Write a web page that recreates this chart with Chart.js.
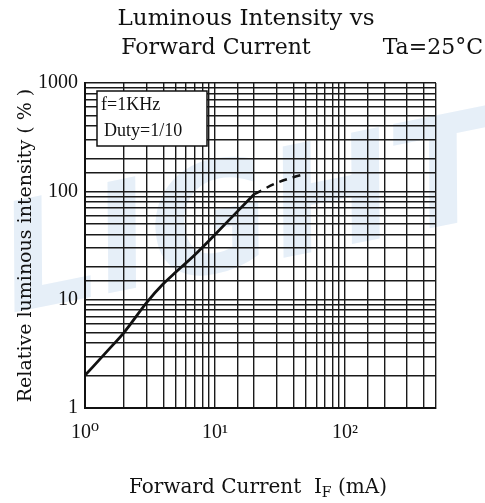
<!DOCTYPE html>
<html>
<head>
<meta charset="utf-8">
<script src="https://cdn.jsdelivr.net/npm/chart.js@4.4.1/dist/chart.umd.min.js"></script>
<style>
  html, body { margin: 0; padding: 0; background: #ffffff; }
  #wrap { width: 485px; height: 503px; }
</style>
</head>
<body>
<div id="wrap"><canvas id="c" width="485" height="503"></canvas></div>
<script>
// ---- data ----
const currentSolid   = [1, 1.5, 2, 3, 4, 5, 7, 10, 15, 20];          // mA
const intensitySolid = [2, 3.4, 5.0, 9.5, 14, 18, 26, 40, 66, 94];   // %
const currentDashed   = [20, 30, 40, 50];                             // mA
const intensityDashed = [94, 120, 135, 145];                          // %
const xTickLabels = { 1: '10\u2070', 10: '10\u00B9', 100: '10\u00B2' };
const yTickLabels = [1, 10, 100, 1000];
const titleLines = ['Luminous Intensity vs', 'Forward Current'];
const conditionText = 'Ta=25\u00B0C';
const noteLines = ['f=1KHz', 'Duty=1/10'];

const serif = '"DejaVu Serif", "Liberation Serif", serif';
const tickFont = '"Liberation Serif", "DejaVu Serif", serif';

const decorPlugin = {
  id: 'decor',
  beforeDraw(chart) {
    const ctx = chart.ctx;
    ctx.save();
    ctx.fillStyle = '#e6eff8';
    ctx.translate(250, 225);
    ctx.rotate(-0.2);
    ctx.font = 'italic bold 150px "DejaVu Sans", sans-serif';
    ctx.textAlign = 'center';
    ctx.textBaseline = 'middle';
    ctx.fillText('LIGHT', 0, 0);
    ctx.restore();
  },
  afterDraw(chart) {
    const ctx = chart.ctx;
    const a = chart.chartArea;
    ctx.save();
    ctx.fillStyle = '#111';
    ctx.textBaseline = 'middle';
    // titles
    ctx.font = '23px ' + serif;
    ctx.textAlign = 'center';
    ctx.fillText(titleLines[0], 246, 19);
    ctx.font = '22px ' + serif;
    ctx.fillText(titleLines[1], 216, 48);
    ctx.textAlign = 'right';
    ctx.fillText(conditionText, 483, 48);
    // note box
    const bx = a.left + 12, by = a.top + 8, bw = 110, bh = 55;
    ctx.fillStyle = '#fff';
    ctx.fillRect(bx, by, bw, bh);
    ctx.strokeStyle = '#111';
    ctx.lineWidth = 1.5;
    ctx.strokeRect(bx, by, bw, bh);
    ctx.fillStyle = '#111';
    ctx.textAlign = 'left';
    ctx.font = '18px ' + tickFont;
    ctx.fillText(noteLines[0], bx + 4, by + 14);
    ctx.fillText(noteLines[1], bx + 7, by + 40);
    // x-axis title with subscript
    const yT = 488;
    ctx.font = '20px ' + serif;
    const p1 = 'Forward Current  I';
    const p3 = ' (mA)';
    const w1 = ctx.measureText(p1).width;
    const w3 = ctx.measureText(p3).width;
    ctx.font = '14px ' + serif;
    const w2 = ctx.measureText('F').width;
    const total = w1 + w2 + w3;
    let x0 = 258 - total / 2;
    ctx.font = '20px ' + serif;
    ctx.fillText(p1, x0, yT);
    ctx.font = '14px ' + serif;
    ctx.fillText('F', x0 + w1, yT + 5);
    ctx.font = '20px ' + serif;
    ctx.fillText(p3, x0 + w1 + w2, yT);
    ctx.restore();
  }
};

new Chart(document.getElementById('c'), {
  type: 'line',
  data: {
    datasets: [
      {
        data: currentSolid.map((x, i) => ({ x, y: intensitySolid[i] })),
        borderColor: '#111',
        borderWidth: 2.8,
        pointRadius: 0,
        cubicInterpolationMode: 'monotone',
        fill: false
      },
      {
        data: currentDashed.map((x, i) => ({ x, y: intensityDashed[i] })),
        borderColor: '#111',
        borderWidth: 2.5,
        borderDash: [8, 6],
        pointRadius: 0,
        cubicInterpolationMode: 'monotone',
        fill: false
      }
    ]
  },
  options: {
    responsive: false,
    animation: false,
    layout: { padding: { left: 0, right: 49, top: 83, bottom: 0 } },
    plugins: { legend: { display: false }, tooltip: { enabled: false }, title: { display: false } },
    scales: {
      x: {
        type: 'logarithmic',
        min: 1,
        max: 500,
        afterFit(s) { s.height = 95; },
        grid: { color: '#1a1a1a', lineWidth: 1.4, drawTicks: false },
        border: { display: true, color: '#111', width: 2 },
        ticks: {
          autoSkip: false,
          maxRotation: 0,
          padding: 13,
          color: '#111',
          font: { family: tickFont, size: 20 },
          callback: (v) => xTickLabels[v] || ''
        }
      },
      y: {
        type: 'logarithmic',
        min: 1,
        max: 1000,
        afterFit(s) { s.width = 85; },
        grid: { color: '#1a1a1a', lineWidth: 1.4, drawTicks: false },
        border: { display: true, color: '#111', width: 2 },
        title: {
          display: true,
          text: 'Relative luminous intensity ( % )',
          color: '#111',
          font: { family: serif, size: 19 },
          padding: { top: 15, bottom: 0 }
        },
        ticks: {
          autoSkip: false,
          padding: 7,
          color: '#111',
          font: { family: tickFont, size: 20 },
          callback: (v) => yTickLabels.includes(v) ? String(v) : ''
        }
      }
    }
  },
  plugins: [decorPlugin]
});
</script>
</body>
</html>
